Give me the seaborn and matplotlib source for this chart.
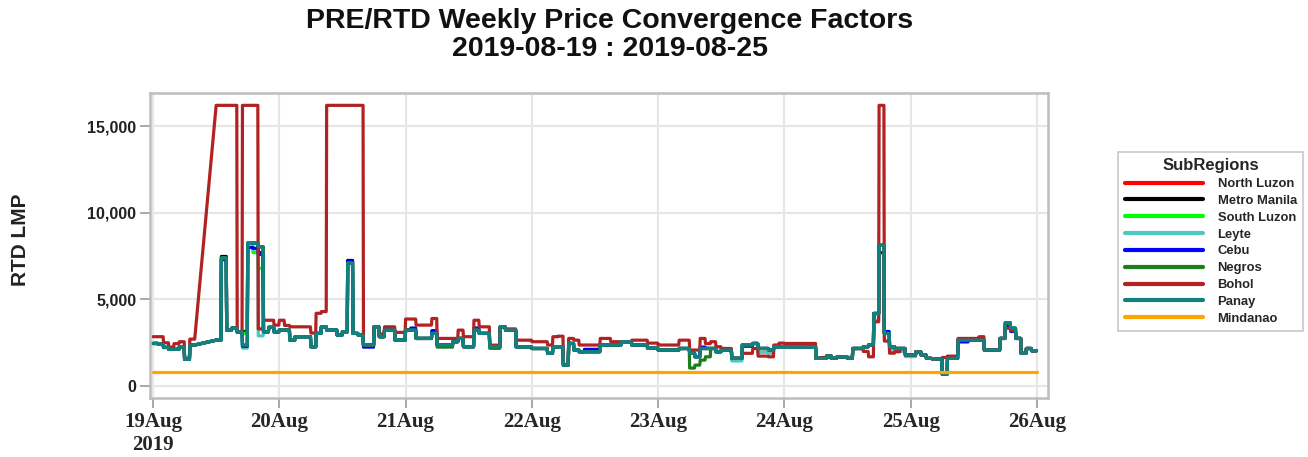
import numpy as np
import pandas as pd
import matplotlib
matplotlib.use("Agg")
import matplotlib.pyplot as plt
from matplotlib.lines import Line2D
from matplotlib.ticker import FuncFormatter
import seaborn as sns

nan = np.nan

# hourly RTD LMP, 19 Aug 00:00 .. 25 Aug 23:00 (hours 8-11 on 19 Aug missing)
panay = [
    2460, 2420, 2230, 2120, 2120, 2270, 1540, 2370, nan, nan, nan, nan,
    2650, 7380, 3230, 3350, 3130, 2370, 8250, 8250, 8040, 3130, 3390, 3130,
    # 20 Aug
    3230, 3230, 2650, 2850, 2850, 2850, 2270, 3040, 3420, 3230, 3230, 2940,
    3130, 7100, 3040, 2940, 2370, 2370, 3420, 2850, 3230, 3230, 2650, 2650,
    # 21 Aug
    3230, 3230, 2750, 2750, 2750, 3040, 2370, 2370, 2370, 2560, 2750, 2270,
    2270, 3230, 3040, 3040, 2270, 2270, 3420, 3230, 3230, 2270, 2270, 2270,
    # 22 Aug
    2170, 2170, 2170, 1890, 2270, 2270, 1210, 2460, 2080, 1980, 1980, 1980,
    1980, 2370, 2370, 2370, 2370, 2560, 2560, 2370, 2370, 2370, 2190, 2190,
    # 23 Aug
    2080, 2080, 2080, 2080, 2170, 2170, 1900, 1690, 2170, 2170, 2170, 1980,
    2080, 2080, 1600, 1600, 2370, 2370, 2460, 2170, 2170, 2080, 2270, 2270,
    # 24 Aug
    2270, 2270, 2270, 2270, 2270, 2270, 1600, 1600, 1730, 1600, 1690, 1690,
    1600, 2170, 2170, 2270, 2370, 4190, 8130, 3040, 2270, 2170, 2170, 1790,
    # 25 Aug
    1790, 1980, 1790, 1600, 1580, 1560, 690, 1600, 1600, 2650, 2650, 2650,
    2650, 2650, 2080, 2080, 2080, 2750, 3650, 3340, 2750, 1890, 2170, 2040,
]

bohol = [
    2850, 2850, 2500, 2250, 2450, 2560, 1600, 2710, nan, nan, nan, nan,
    16200, 16200, 16200, 16200, 3100, 16200, 16200, 16200, 3300, 3800, 3800, 3520,
    # 20 Aug
    3800, 3500, 3420, 3420, 3420, 3420, 3060, 4200, 4300, 16200, 16200, 16200,
    16200, 16200, 16200, 16200, 2370, 2370, 3420, 3000, 3420, 3420, 3100, 3100,
    # 21 Aug
    3870, 3870, 3520, 3520, 3520, 3900, 2750, 2750, 2750, 2750, 3230, 2850,
    2850, 3800, 3420, 3420, 2360, 2360, 3420, 3300, 3300, 2650, 2650, 2650,
    # 22 Aug
    2560, 2560, 2560, 2370, 2850, 2880, 1250, 2750, 2650, 2370, 2370, 2370,
    2370, 2750, 2750, 2560, 2560, 2560, 2560, 2650, 2650, 2650, 2480, 2480,
    # 23 Aug
    2370, 2370, 2370, 2370, 2650, 2650, 2080, 2080, 2750, 2450, 2560, 2270,
    2170, 2170, 1600, 1600, 1890, 1890, 2170, 1730, 1730, 1690, 2370, 2480,
    # 24 Aug
    2460, 2460, 2460, 2460, 2460, 2460, 1600, 1650, 1730, 1600, 1690, 1690,
    1600, 2170, 2170, 2000, 1690, 3710, 16200, 2600, 1900, 1980, 2170, 1790,
    # 25 Aug
    1790, 1980, 1790, 1600, 1580, 1560, 1650, 1730, 1730, 2750, 2750, 2750,
    2750, 2850, 2080, 2080, 2080, 2750, 3340, 3200, 2750, 1890, 2170, 2040,
]

# hours where the other sub-regions leave the Panay price
north_luzon_diff = {13: 7450, 17: 3100, 37: 7230}
metro_manila_diff = {13: 7480, 17: 3150, 20: 7700, 37: 7250}
south_luzon_diff = {17: 3050, 19: 7700, 20: 6800}
leyte_diff = {17: 2190, 19: 7900, 20: 2900, 110: 1450, 111: 1450, 115: 1950,
              116: 1950, 117: 1900, 137: 3800, 140: 2050, 141: 2000, 142: 2000,
              143: 1700, 144: 1700}
cebu_diff = {13: 7300, 17: 2300, 18: 8000, 19: 7950, 20: 7600, 37: 7200,
             40: 2250, 41: 2250, 49: 3350, 53: 3200, 61: 3350, 82: 2120,
             83: 2120, 84: 2120, 104: 2250, 112: 2300, 113: 2300, 138: 7700,
             139: 3150, 153: 2550, 154: 2550, 162: 3450, 163: 3150}
negros_diff = {54: 2250, 55: 2250, 56: 2250, 64: 2180, 65: 2180, 102: 1040,
               103: 1210, 104: 1500, 105: 1690, 128: 1650}
mindanao_price = 810  # flat all week

regions = ["North Luzon", "Metro Manila", "South Luzon", "Leyte", "Cebu",
           "Negros", "Bohol", "Panay", "Mindanao"]
colors = ["#ff0000", "#000000", "#00ff00", "#4ec9c0", "#0000ff",
          "#1a7f1a", "#b22222", "#138080", "#ffa500"]
day_labels = ["19Aug\n2019", "20Aug", "21Aug", "22Aug", "23Aug", "24Aug", "25Aug", "26Aug"]


def with_diff(base, diff):
    vals = list(base)
    for h, v in diff.items():
        vals[h] = v
    return vals


series = {
    "North Luzon": with_diff(panay, north_luzon_diff),
    "Metro Manila": with_diff(panay, metro_manila_diff),
    "South Luzon": with_diff(panay, south_luzon_diff),
    "Leyte": with_diff(panay, leyte_diff),
    "Cebu": with_diff(panay, cebu_diff),
    "Negros": with_diff(panay, negros_diff),
    "Bohol": bohol,
    "Panay": panay,
    "Mindanao": [mindanao_price] * len(panay),
}

# each hourly value is held until the next dispatch interval
rows = []
for name in regions:
    for h, v in enumerate(series[name]):
        if np.isnan(v):
            continue
        rows.append((name, h, v))
        rows.append((name, h + 0.92, v))
df = pd.DataFrame(rows, columns=["SubRegion", "hour", "lmp"])

sns.set_theme(style="whitegrid")
plt.rcParams["font.family"] = ["Liberation Sans", "DejaVu Sans"]

fig = plt.figure(figsize=(13.08, 4.57), dpi=100)
ax = fig.add_axes([0.1147, 0.129, 0.6865, 0.667])

palette = dict(zip(regions, colors))
sns.lineplot(data=df, x="hour", y="lmp", hue="SubRegion", hue_order=regions,
             palette=palette, estimator=None, sort=False, linewidth=2.3,
             legend=False, ax=ax)

ax.set_xlim(-0.57, 170.1)
ax.set_ylim(-690, 16900)
ax.set_xticks(range(0, 169, 24))
ax.set_xticklabels(day_labels, fontfamily="Liberation Serif", fontweight="bold", fontsize=15)
ax.set_yticks([0, 5000, 10000, 15000])
ax.yaxis.set_major_formatter(FuncFormatter(lambda v, p: f"{int(v):,}"))
for lab in ax.get_yticklabels():
    lab.set_fontweight("bold")
    lab.set_fontsize(11.5)
    lab.set_color("#222222")
ax.tick_params(axis="both", length=7, width=1.2, color="#999999", direction="out",
               bottom=True, left=True, pad=3)
ax.grid(True, color="#e6e6e6", linewidth=1.5)
for s in ax.spines.values():
    s.set_color("#bdbdbd")
    s.set_linewidth(1.8)
ax.set_xlabel("")
ax.set_ylabel("")
fig.text(0.0155, 0.475, "RTD LMP", rotation=90, ha="center", va="center",
         fontsize=15, fontweight="bold", color="#222222")

fig.text(0.466, 0.955, "PRE/RTD Weekly Price Convergence Factors", ha="center",
         va="center", fontsize=20.5, fontweight="bold", color="#111111")
fig.text(0.466, 0.893, "2019-08-19 : 2019-08-25", ha="center", va="center",
         fontsize=20.5, fontweight="bold", color="#111111")

handles = [Line2D([0], [0], color=c, linewidth=3) for c in colors]
leg = fig.legend(handles, regions, title="SubRegions", loc="upper left",
                 bbox_to_anchor=(0.855, 0.668), borderaxespad=0, frameon=True,
                 fancybox=False, handlelength=6.0, handletextpad=1.1,
                 labelspacing=0.36, borderpad=0.5,
                 prop={"weight": "bold", "size": 9.4},
                 title_fontproperties={"weight": "bold", "size": 12})
leg.get_frame().set_edgecolor("#bbbbbb")
leg.get_frame().set_linewidth(1.2)

fig.savefig("out.png", dpi=100)
